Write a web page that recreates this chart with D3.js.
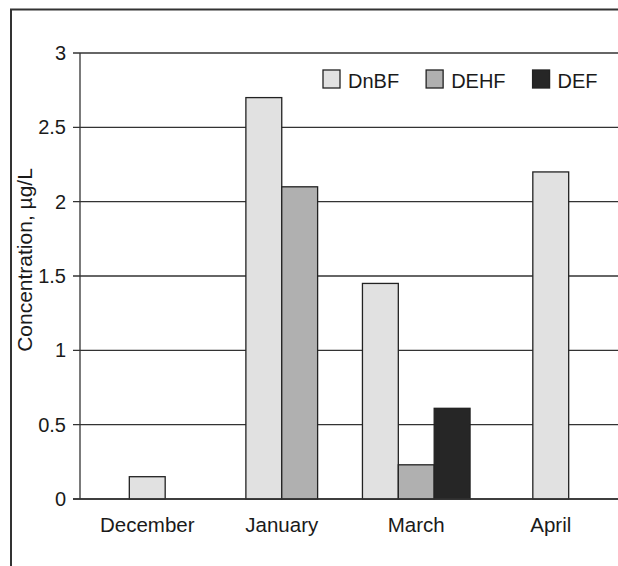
<!DOCTYPE html>
<html>
<head>
<meta charset="utf-8">
<script src="https://cdn.jsdelivr.net/npm/d3@7"></script>
<style>
  body { margin: 0; background: #fff; }
  text { font-family: "Liberation Sans", Arial, sans-serif; fill: #1a1a1a; }
</style>
</head>
<body>
<div id="chart"></div>
<script>
var months = ['December', 'January', 'March', 'April']
var seriesNames = ['DnBF', 'DEHF', 'DEF']
var dnbf = [0.15, 2.7, 1.45, 2.2]
var dehf = [null, 2.1, 0.23, null]
var def = [null, null, 0.61, null]
var yTicks = [0, 0.5, 1, 1.5, 2, 2.5, 3]

var colors = {DnBF: '#e1e1e1', DEHF: '#b0b0b0', DEF: '#262626'}
var values = {DnBF: dnbf, DEHF: dehf, DEF: def}

var w = 618, h = 566
var svg = d3.select('#chart').append('svg')
  .attr('width', w)
  .attr('height', h)

// outer frame (top and left edges only are visible)
svg.append('line').attr('x1', 10).attr('x2', w).attr('y1', 9.5).attr('y2', 9.5)
  .attr('stroke', '#333').attr('stroke-width', 2)
svg.append('line').attr('x1', 11).attr('x2', 11).attr('y1', 9).attr('y2', h)
  .attr('stroke', '#333').attr('stroke-width', 2)

var x0 = d3.scaleBand()
  .domain(months)
  .range([80, w])

var y = d3.scaleLinear()
  .domain([0, 3])
  .range([499, 53])

// gridlines + ticks
svg.append('g').selectAll('line')
  .data(yTicks)
  .enter().append('line')
  .attr('x1', 73).attr('x2', w)
  .attr('y1', d => y(d)).attr('y2', d => y(d))
  .attr('stroke', '#333').attr('stroke-width', 1.3)

svg.append('g').selectAll('text')
  .data(yTicks)
  .enter().append('text')
  .attr('x', 66)
  .attr('y', d => y(d) + 7)
  .attr('text-anchor', 'end')
  .style('font-size', '20px')
  .text(d => d)

// y axis line
svg.append('line').attr('x1', 80).attr('x2', 80).attr('y1', y(3)).attr('y2', y(0))
  .attr('stroke', '#333').attr('stroke-width', 1.3)

// y title
svg.append('text')
  .attr('transform', 'translate(32,' + 260 + ') rotate(-90)')
  .attr('text-anchor', 'middle')
  .style('font-size', '21px')
  .text('Concentration, \u00b5g/L')

var barW = x0.bandwidth() * 0.8 / 3

months.forEach(function(m, i) {
  var present = seriesNames.filter(s => values[s][i] != null)
  var c = x0(m) + x0.bandwidth() / 2
  var x1 = d3.scaleBand()
    .domain(present)
    .range([c - present.length * barW / 2, c + present.length * barW / 2])

  svg.append('g').selectAll('rect')
    .data(present)
    .enter().append('rect')
    .attr('x', s => x1(s))
    .attr('width', x1.bandwidth())
    .attr('y', s => y(values[s][i]))
    .attr('height', s => y(0) - y(values[s][i]))
    .attr('fill', s => colors[s])
    .attr('stroke', '#222')
    .attr('stroke-width', 1.3)

  svg.append('text')
    .attr('x', c)
    .attr('y', 532)
    .attr('text-anchor', 'middle')
    .style('font-size', '20.5px')
    .text(m)
})

// x axis line on top of bars
svg.append('line').attr('x1', 73).attr('x2', w).attr('y1', y(0)).attr('y2', y(0))
  .attr('stroke', '#333').attr('stroke-width', 1.3)

// legend
var lx = 323
seriesNames.forEach(function(s) {
  svg.append('rect')
    .attr('x', lx).attr('y', 70)
    .attr('width', 17).attr('height', 18)
    .attr('fill', colors[s])
    .attr('stroke', '#222')
    .attr('stroke-width', 1.3)
  var t = svg.append('text')
    .attr('x', lx + 25)
    .attr('y', 88)
    .style('font-size', '20px')
    .text(s)
  lx += 25 + t.node().getComputedTextLength() + 27
})
</script>
</body>
</html>
